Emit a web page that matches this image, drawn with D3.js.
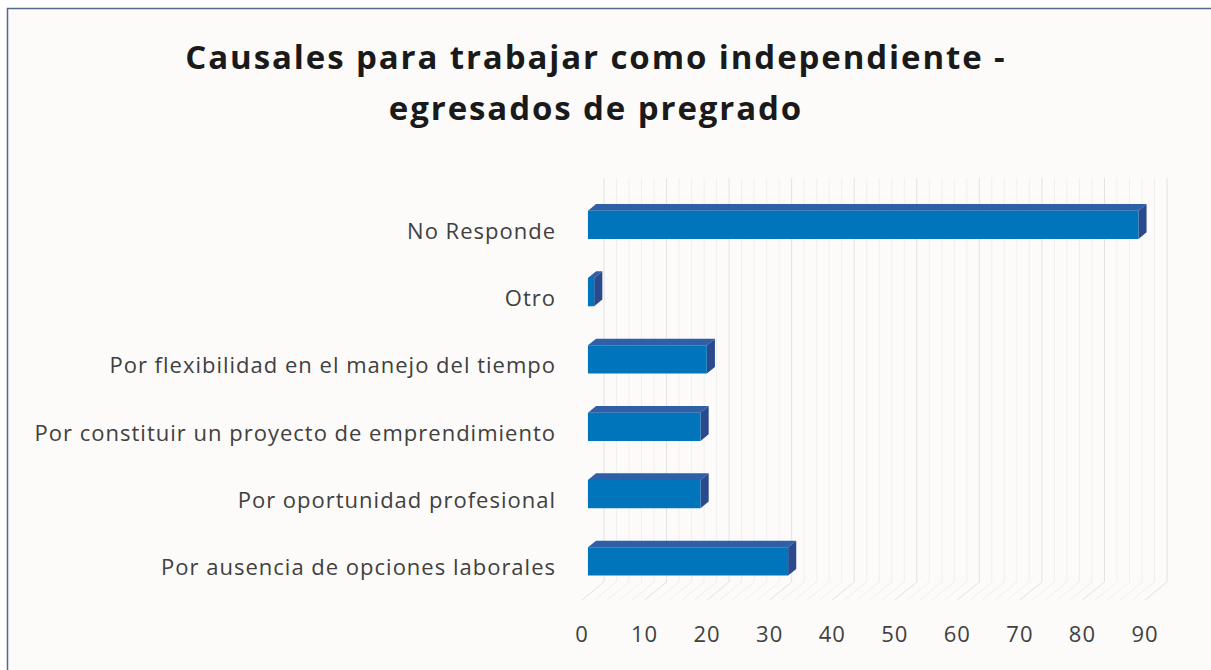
<!DOCTYPE html>
<html lang="es">
<head>
    <meta charset="utf-8">
    <script src="https://d3js.org/d3.v7.min.js"></script>
</head>
<body style="margin:0;background:#ffffff;">
<style>
    text {
        font-family: "Open Sans", "Liberation Sans", sans-serif;
        fill: #404040;
    }
    .title {
        font-weight: bold;
        fill: #1a1a1a;
    }
</style>
<svg></svg>
<script>
    const width = 1211;
    const height = 670;

    // data
    const categories = [
        'No Responde',
        'Otro',
        'Por flexibilidad en el manejo del tiempo',
        'Por constituir un proyecto de emprendimiento',
        'Por oportunidad profesional',
        'Por ausencia de opciones laborales'
    ];
    const values = [88, 1, 19, 18, 18, 32];
    const tickValues = [0, 10, 20, 30, 40, 50, 60, 70, 80, 90];
    const titleLines = ['Causales para trabajar como independiente -', 'egresados de pregrado'];

    const svg = d3.select('svg')
        .attr('width', width)
        .attr('height', height);

    // chart area
    svg.append('rect')
        .attr('x', 7.5).attr('y', 8.5)
        .attr('width', width + 10).attr('height', height + 10)
        .attr('fill', '#fcfbfa')
        .attr('stroke', '#53688a')
        .attr('stroke-width', 1.5);

    // back wall coordinates
    const wallTop = 178;
    const wallBottom = 582;
    const depthX = -22;   // going from back wall to front edge
    const depthY = 18;

    const x = d3.scaleLinear().domain([0, 90]).range([604, 1167]);
    const y = d3.scaleBand().domain(categories).range([wallTop, wallBottom]).paddingInner(0.58).paddingOuter(0.29);

    const grid = svg.append('g');
    const minorTicks = d3.range(0, 91, 2);

    // back wall lines
    grid.selectAll('.wall')
        .data(minorTicks)
        .enter().append('line')
        .attr('x1', (d) => x(d)).attr('x2', (d) => x(d))
        .attr('y1', wallTop).attr('y2', wallBottom)
        .attr('stroke', (d) => d % 10 === 0 ? '#e2e2e2' : '#f0efef')
        .attr('stroke-width', 1);

    // floor lines
    grid.selectAll('.floor')
        .data(minorTicks)
        .enter().append('line')
        .attr('x1', (d) => x(d)).attr('y1', wallBottom)
        .attr('x2', (d) => x(d) + depthX).attr('y2', wallBottom + depthY)
        .attr('stroke', (d) => d % 10 === 0 ? '#e2e2e2' : '#f0efef')
        .attr('stroke-width', 1);

    // bars: front face at 0.73 of depth, back face at 0.36
    const fFront = 0.73;
    const fBack = 0.36;
    const bars = svg.append('g').selectAll('g')
        .data(categories.map((c, i) => ({cat: c, value: values[i]})))
        .enter().append('g');

    const pt = (v, yy, f) => [x(v) + depthX * f, yy + depthY * f];

    bars.each(function (d) {
        const g = d3.select(this);
        const top = y(d.cat);
        const bottom = y(d.cat) + y.bandwidth();
        const a = pt(0, top, fFront), b = pt(d.value, top, fFront);
        const c = pt(d.value, bottom, fFront), e = pt(0, bottom, fFront);
        const a2 = pt(0, top, fBack), b2 = pt(d.value, top, fBack), c2 = pt(d.value, bottom, fBack);
        // top face
        g.append('polygon')
            .attr('points', [a, b, b2, a2].map((p) => p.join(',')).join(' '))
            .attr('fill', '#2f5fa6');
        // side face
        g.append('polygon')
            .attr('points', [b, b2, c2, c].map((p) => p.join(',')).join(' '))
            .attr('fill', '#2b4a8e');
        // front face
        g.append('polygon')
            .attr('points', [a, b, c, e].map((p) => p.join(',')).join(' '))
            .attr('fill', '#0075bc');
    });

    // category labels
    svg.append('g').selectAll('text')
        .data(categories)
        .enter().append('text')
        .attr('x', 556)
        .attr('y', (d) => y(d) + y.bandwidth() / 2 + depthY + 3)
        .attr('text-anchor', 'end')
        .attr('dominant-baseline', 'middle')
        .attr('font-size', 22)
        .attr('letter-spacing', 1)
        .text((d) => d);

    // value axis on the front edge
    svg.append('g').selectAll('text')
        .data(tickValues)
        .enter().append('text')
        .attr('x', (d) => x(d) + depthX)
        .attr('y', 636)
        .attr('text-anchor', 'middle')
        .attr('dominant-baseline', 'middle')
        .attr('font-size', 22)
        .attr('letter-spacing', 1)
        .text((d) => d);

    // title
    svg.append('g').selectAll('text')
        .data(titleLines)
        .enter().append('text')
        .attr('class', 'title')
        .attr('x', 596)
        .attr('y', (d, i) => 69 + i * 51)
        .attr('text-anchor', 'middle')
        .attr('font-size', 33)
        .attr('letter-spacing', 1.9)
        .text((d) => d);
</script>
</body>
</html>
